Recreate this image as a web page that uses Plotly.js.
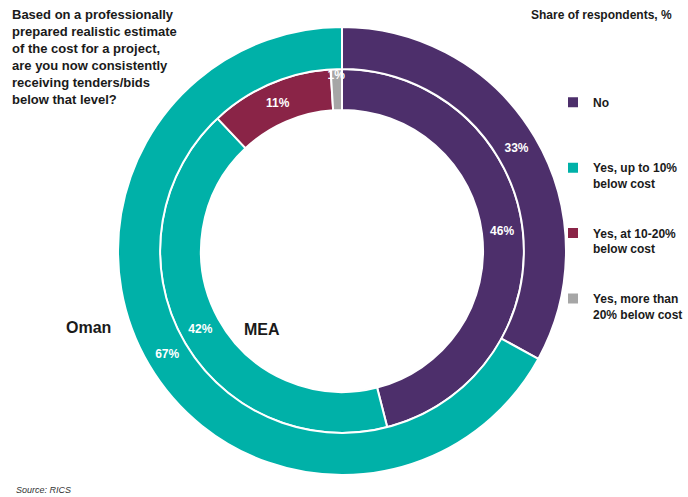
<!DOCTYPE html>
<html>
<head>
<meta charset="utf-8">
<script src="https://cdn.plot.ly/plotly-3.0.1.min.js"></script>
<style>
  html, body { margin: 0; padding: 0; background: #fff; }
  #chart { width: 688px; height: 497px; }
</style>
</head>
<body>
<div id="chart"></div>
<script>
// answers, in legend order
var answers = [
    'No',
    'Yes, up to 10%<br>below cost',
    'Yes, at 10-20%<br>below cost',
    'Yes, more than<br>20% below cost'
];
var answerColors = ['#4d2f6b', '#00b1a8', '#8a2447', '#a6a6a6'];

// share of respondents, %
var meaValues = [46, 42, 11, 1];
var omanValues = [33, 67];

// pad legend labels with empty lines so entries sit further apart
function padLabel(lbl) {
    var lines = lbl.split('<br>').length;
    var out = lbl;
    for (var i = lines; i < 4; i++) out += '<br>&nbsp;';
    return out;
}
var legendLabels = answers.map(padLabel);

var sliceFont = {family: 'Arial, Liberation Sans, sans-serif', size: 12, color: '#ffffff', weight: 'bold'};

var data = [
    {
        type: 'pie',
        name: 'MEA',
        labels: legendLabels,
        values: meaValues,
        marker: {colors: answerColors, line: {color: '#ffffff', width: 2}},
        hole: 0.775,
        sort: false,
        direction: 'clockwise',
        rotation: 0,
        texttemplate: '%{value}%',
        textposition: 'inside',
        insidetextorientation: 'horizontal',
        insidetextfont: sliceFont,
        domain: {x: [160 / 688, 524 / 688], y: [64 / 497, 428 / 497]},
        hoverinfo: 'skip'
    },
    {
        type: 'pie',
        name: 'Oman',
        labels: legendLabels.slice(0, 2),
        values: omanValues,
        marker: {colors: answerColors.slice(0, 2), line: {color: '#ffffff', width: 2}},
        hole: 0.812,
        sort: false,
        direction: 'clockwise',
        rotation: 0,
        texttemplate: '%{value}%',
        textposition: 'inside',
        insidetextorientation: 'horizontal',
        insidetextfont: sliceFont,
        domain: {x: [118 / 688, 566 / 688], y: [22 / 497, 470 / 497]},
        hoverinfo: 'skip'
    }
];

var txt = {family: 'Arial, Liberation Sans, sans-serif', color: '#1a1a1a', weight: 'bold'};

var layout = {
    width: 688,
    height: 497,
    margin: {l: 0, r: 0, t: 0, b: 0},
    paper_bgcolor: '#ffffff',
    showlegend: true,
    uniformtext: {mode: 'show', minsize: 12},
    legend: {
        x: 553 / 688, y: 1 - 88 / 497, xanchor: 'left', yanchor: 'top',
        valign: 'top',
        bgcolor: 'rgba(0,0,0,0)',
        font: Object.assign({}, txt, {size: 12}),
        traceorder: 'normal'
    },
    annotations: [
        {
            text: 'Based on a professionally<br>prepared realistic estimate<br>of the cost for a project,<br>are you now consistently<br>receiving tenders/bids<br>below that level?',
            xref: 'paper', yref: 'paper', x: 10 / 688, y: 1 - 5 / 497,
            xanchor: 'left', yanchor: 'top', align: 'left', showarrow: false,
            font: Object.assign({}, txt, {size: 13})
        },
        {
            text: 'Share of respondents, %',
            xref: 'paper', yref: 'paper', x: 674 / 688, y: 1 - 6 / 497,
            xanchor: 'right', yanchor: 'top', showarrow: false,
            font: Object.assign({}, txt, {size: 12})
        },
        {
            text: 'Oman',
            xref: 'paper', yref: 'paper', x: 88 / 688, y: 1 - 327 / 497,
            xanchor: 'center', yanchor: 'middle', showarrow: false,
            font: Object.assign({}, txt, {size: 16})
        },
        {
            text: 'MEA',
            xref: 'paper', yref: 'paper', x: 262 / 688, y: 1 - 329 / 497,
            xanchor: 'center', yanchor: 'middle', showarrow: false,
            font: Object.assign({}, txt, {size: 16})
        },
        {
            text: '<i>Source: RICS</i>',
            xref: 'paper', yref: 'paper', x: 14 / 688, y: 1 - 490 / 497,
            xanchor: 'left', yanchor: 'middle', showarrow: false,
            font: {family: 'Arial, Liberation Sans, sans-serif', size: 9, color: '#333333'}
        }
    ]
};

Plotly.newPlot('chart', data, layout, {displayModeBar: false, responsive: false});
</script>
</body>
</html>
